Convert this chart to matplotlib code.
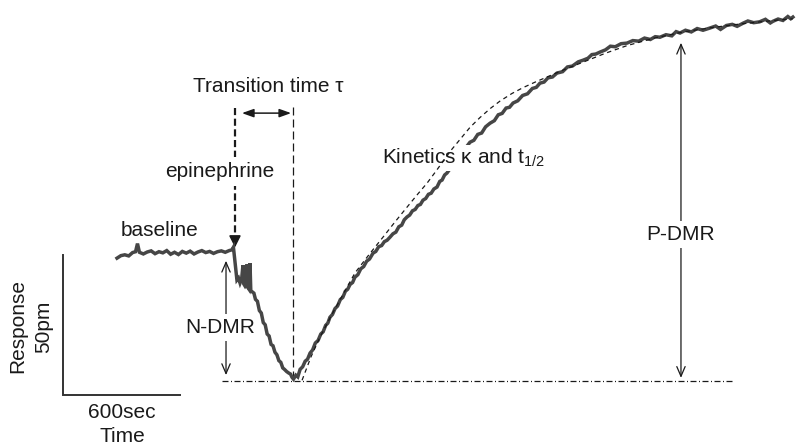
import matplotlib

matplotlib.use("Agg")
import matplotlib.pyplot as plt

plt.rcParams["font.family"] = ["Liberation Sans", "DejaVu Sans"]
plt.rcParams["mathtext.fontset"] = "custom"
plt.rcParams["mathtext.rm"] = "Liberation Sans"
plt.rcParams["mathtext.default"] = "regular"

# DMR trace: time (sec, epinephrine added at 0) and response (pm, baseline = 0)
baseline_t = [-605, -585, -565, -545, -525, -510, -500, -490, -470, -450, -430,
              -410, -390, -370, -350, -330, -310, -290, -270, -250, -230, -210,
              -190, -170, -150, -130, -110, -90, -70, -50, -30, -15, -8]
baseline_r = [-1.8, -0.9, -0.6, -1.0, 0.2, 0.5, 3.4, 0.3, -0.3, 0.4, 0.8,
              -0.2, 0.5, 0.1, 0.9, -0.4, 0.3, -0.5, 0.6, 0.0, 0.7, -0.3,
              0.4, 0.9, 0.2, 0.6, -0.1, 0.5, 0.8, 0.3, 0.9, 1.2, 2.1]

ndmr_t = [0, 5, 10, 18, 26, 34, 41, 45, 52, 58, 62, 66, 72, 77, 81, 88, 97,
          105, 115, 125, 135, 145, 155, 165, 175, 185, 195, 205, 215, 225, 235,
          245, 255, 265, 275, 285, 292]
ndmr_r = [-3.2, -6.8, -9.6, -8.9, -10.7, -9.3, -4.3, -11.0, -11.8, -11.2, -4.0,
          -12.3, -12.9, -3.6, -13.4, -13.8, -14.3,
          -16.5, -17.2, -20.5, -21.4, -24.8, -25.6, -28.9, -29.6, -32.6, -33.1,
          -35.4, -36.3, -38.4, -39.0, -41.0, -41.6, -42.3, -42.8, -43.2, -44.3]

pdmr_t = [300, 312, 322, 334, 347, 360, 372, 385, 398, 412, 426, 440, 452, 465,
          476, 487, 500, 513, 526, 540, 553, 566, 578, 590, 603, 615, 630, 645,
          660, 675, 690, 708, 722, 737, 752, 766, 780, 795, 810, 825, 840, 855,
          868, 882, 896, 910, 924, 938, 951, 964, 978, 992, 1006, 1020, 1036,
          1050, 1062, 1075, 1087, 1110, 1135, 1160, 1183, 1205, 1225, 1245, 1265,
          1285, 1308, 1330, 1350, 1370, 1390, 1408, 1426, 1450, 1475, 1500, 1525,
          1545, 1564, 1585, 1605, 1628, 1651, 1680, 1705, 1730, 1760, 1785, 1810,
          1830, 1850, 1872, 1900, 1925, 1950, 1980, 2010, 2040, 2070, 2100, 2130,
          2155, 2179, 2210, 2240, 2262, 2282, 2310, 2340, 2370, 2400, 2436, 2465,
          2490, 2520, 2550, 2575, 2605, 2630, 2660, 2690, 2720, 2745, 2759, 2785,
          2810, 2835, 2850, 2861]
pdmr_r = [-45.0, -43.6, -44.2, -41.5, -40.6, -38.6, -37.9, -35.7, -34.6, -32.1,
          -31.2, -28.9, -28.1, -25.8, -25.0, -22.9, -21.9, -19.8, -18.9, -16.6,
          -15.8, -13.6, -12.9, -11.2, -10.5, -8.6, -7.7, -5.6, -4.8, -2.9, -2.1,
          0.0, 0.6, 2.3, 2.7, 4.1, 4.6, 5.7, 6.9, 7.5, 9.4, 10.0, 11.9, 12.9,
          13.6, 15.1, 15.6, 17.0, 17.4, 18.9, 19.5, 21.0, 21.4, 22.9, 23.6, 25.6,
          26.1, 27.9, 28.6, 30.8, 33.1, 35.4, 37.6, 39.6, 40.3, 42.4, 42.9, 45.1,
          46.4, 47.3, 49.4, 49.9, 51.8, 52.1, 53.6, 54.4, 56.3, 56.9, 58.8, 59.2,
          60.7, 61.1, 62.6, 62.9, 64.3, 64.8, 66.5, 66.8, 68.3, 68.9, 69.6, 70.9,
          71.1, 71.8, 72.6, 73.9, 73.7, 74.8, 75.0, 75.9, 75.7, 76.8, 76.3, 77.3,
          77.1, 78.0, 77.6, 79.1, 78.6, 79.6, 79.0, 80.2, 79.6, 80.4, 81.1, 79.9,
          81.3, 81.7, 81.0, 82.1, 82.9, 82.3, 82.6, 83.5, 82.2, 82.8, 83.6, 83.1,
          84.5, 83.7, 84.3]

# kinetic fit of the positive phase
fit_t = [344, 390, 436, 500, 560, 615, 690, 759, 820, 882, 935, 985, 1030, 1067,
         1110, 1154, 1205, 1256, 1310, 1359, 1420, 1477, 1540, 1600, 1690, 1785,
         1900, 2010, 2150, 2300, 2450, 2600, 2750, 2861]
fit_r = [-45.4, -37.0, -30.0, -21.5, -14.0, -7.1, -0.3, 5.7, 11.1, 16.4, 20.9,
         25.0, 29.2, 32.8, 36.9, 40.6, 44.9, 48.4, 51.7, 54.3, 57.0, 59.1, 61.1,
         62.9, 65.6, 68.2, 71.4, 74.1, 76.8, 79.0, 80.6, 81.9, 83.0, 83.7]

epinephrine_t = 0
transition_t = 295
baseline_level = 0.0
trough_level = -45.8
plateau_level = 78.6
n_dmr_t = -46
p_dmr_t = 2287

scale_t0, scale_r0 = -882, -50.7
scale_dt, scale_dr = 600, 50

trace_t = baseline_t + ndmr_t + pdmr_t
trace_r = baseline_r + ndmr_r + pdmr_r

ink = "#1a1a1a"
fs = 15

fig = plt.figure(figsize=(7.97, 4.48), dpi=100)
ax = fig.add_axes([0, 0, 1, 1])
ax.set_xlim(-1205, 2882)
ax.set_ylim(-69.6, 90.4)
ax.axis("off")

ax.plot(trace_t, trace_r, color="#464646", lw=2.5, solid_joinstyle="miter", zorder=3)
ax.plot(fit_t, fit_r, color=ink, lw=0.9, linestyle=(0, (3.5, 3)), zorder=5)

# trough reference line
ax.plot([-67, 2554], [trough_level, trough_level], color=ink, lw=0.9,
        linestyle=(0, (4.8, 2, 0.8, 2)), zorder=2)

# epinephrine addition and end of the transition phase
ax.plot([epinephrine_t, epinephrine_t], [51.8, 4.5], color=ink, lw=1.6,
        linestyle=(0, (3.2, 1.6)), zorder=2)
ax.annotate("", xy=(epinephrine_t, 2.0), xytext=(epinephrine_t, 5.5),
            arrowprops=dict(arrowstyle="-|>,head_length=0.7,head_width=0.35",
                            color=ink, lw=1.2, shrinkA=0, shrinkB=0), zorder=2)
ax.plot([transition_t, transition_t], [52.1, trough_level], color=ink, lw=0.9,
        linestyle=(0, (6.4, 3.2)), zorder=2)
ax.annotate("", xy=(transition_t, 50.0), xytext=(epinephrine_t, 50.0),
            arrowprops=dict(arrowstyle="<|-|>,head_length=0.7,head_width=0.25",
                            color=ink, lw=1.1, shrinkA=5, shrinkB=1))

# N-DMR and P-DMR amplitudes
ax.annotate("", xy=(n_dmr_t, trough_level), xytext=(n_dmr_t, baseline_level),
            arrowprops=dict(arrowstyle="<->,head_length=0.7,head_width=0.3",
                            color=ink, lw=0.9, shrinkA=5.5, shrinkB=4.5), zorder=1)
ax.annotate("", xy=(p_dmr_t, plateau_level), xytext=(p_dmr_t, trough_level),
            arrowprops=dict(arrowstyle="<->,head_length=0.7,head_width=0.3",
                            color=ink, lw=0.9, shrinkA=2.5, shrinkB=7), zorder=1)

white = dict(facecolor="white", edgecolor="none", boxstyle="square,pad=0.2")
ax.text(-385, 6.1, "baseline", fontsize=fs, color=ink, ha="center", va="baseline")
ax.text(-77, 27.1, "epinephrine", fontsize=fs, color=ink, ha="center",
        va="baseline", bbox=dict(white, boxstyle="square,pad=0.25"), zorder=2.5)
ax.text(-215, 57.5, "Transition time τ", fontsize=fs, color=ink, ha="left",
        va="baseline")
ax.text(-77, -28.6, "N-DMR", fontsize=fs, color=ink, ha="center", va="baseline",
        bbox=white, zorder=1.5)
ax.text(754, 31.8, "Kinetics κ and t$_{1/2}$", fontsize=fs, color=ink, ha="left",
        va="baseline", bbox=dict(white, boxstyle="square,pad=0.1"), zorder=4)
ax.text(p_dmr_t, 4.6, "P-DMR", fontsize=fs, color=ink, ha="center",
        va="baseline", bbox=white, zorder=1.5)

# scale bars
ax.plot([scale_t0, scale_t0, scale_t0 + scale_dt],
        [scale_r0 + scale_dr, scale_r0, scale_r0], color="#333333", lw=1.4,
        solid_joinstyle="miter")
ax.text(-579, -58.9, "600sec", fontsize=fs, color=ink, ha="center", va="baseline")
ax.text(-579, -67.6, "Time", fontsize=fs, color=ink, ha="center", va="baseline")
ax.text(-1113, -26.1, "Response", fontsize=fs, color=ink, ha="center",
        va="center", rotation=90)
ax.text(-979, -26.4, "50pm", fontsize=fs, color=ink, ha="center", va="center",
        rotation=90)

fig.savefig("out.png", dpi=100)
